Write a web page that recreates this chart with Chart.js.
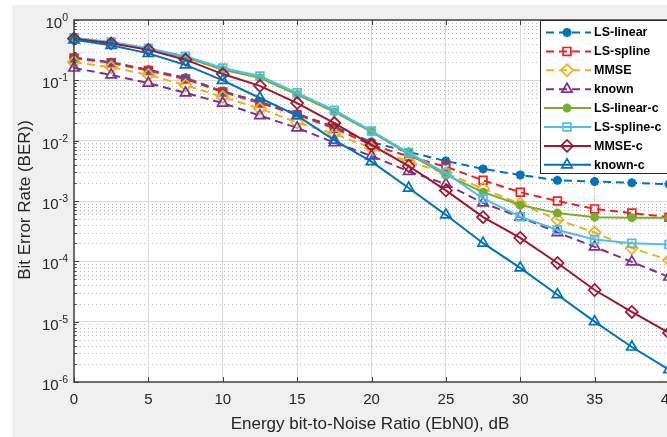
<!DOCTYPE html>
<html>
<head>
<meta charset="utf-8">
<script src="https://cdn.jsdelivr.net/npm/chart.js@4/dist/chart.umd.min.js"></script>
<style>
  html, body { margin: 0; padding: 0; background: #fff; overflow: hidden; }
  #wrap { width: 690px; height: 437px; }
</style>
</head>
<body>
<div id="wrap"><canvas id="berChart" width="690" height="437"></canvas></div>
<script>
// Eb/N0 points (dB)
const ebn0 = [0, 2.5, 5, 7.5, 10, 12.5, 15, 17.5, 20, 22.5, 25, 27.5, 30, 32.5, 35, 37.5, 40];

// BER per estimator
const lsLinear  = [0.24, 0.2, 0.15, 0.11, 0.066, 0.044, 0.028, 0.017, 0.0095, 0.0065, 0.0046, 0.0034, 0.0027, 0.0022, 0.0021, 0.002, 0.0019];
const lsSpline  = [0.235, 0.195, 0.145, 0.105, 0.064, 0.042, 0.027, 0.016, 0.0085, 0.0055, 0.0037, 0.0022, 0.0014, 0.001, 0.00074, 0.00063, 0.00054];
const mmse      = [0.2, 0.165, 0.123, 0.083, 0.053, 0.034, 0.02, 0.013, 0.0075, 0.0045, 0.0029, 0.0016, 0.0009, 0.00049, 0.0003, 0.000166, 0.000105];
const known     = [0.16, 0.123, 0.09, 0.062, 0.042, 0.026, 0.0163, 0.0093, 0.0056, 0.0031, 0.0019, 0.00093, 0.00054, 0.0003, 0.000174, 0.000098, 0.000055];
const lsLinearC = [0.5, 0.42, 0.33, 0.24, 0.15, 0.11, 0.058, 0.03, 0.014, 0.006, 0.0027, 0.0014, 0.00086, 0.00063, 0.00054, 0.00053, 0.00053];
const lsSplineC = [0.51, 0.43, 0.34, 0.25, 0.16, 0.118, 0.062, 0.032, 0.0145, 0.0063, 0.0029, 0.0011, 0.00055, 0.00033, 0.00023, 0.0002, 0.00019];
const mmseC     = [0.49, 0.41, 0.32, 0.22, 0.127, 0.081, 0.042, 0.0196, 0.0085, 0.0038, 0.0015, 0.00054, 0.000245, 0.000094, 0.0000335, 0.0000145, 0.0000065];
const knownC    = [0.47, 0.38, 0.28, 0.18, 0.1, 0.051, 0.026, 0.0102, 0.0045, 0.00164, 0.00059, 0.0002, 0.000078, 0.000028, 0.00001, 0.0000038, 0.0000016];

const seriesNames  = ['LS-linear', 'LS-spline', 'MMSE', 'known', 'LS-linear-c', 'LS-spline-c', 'MMSE-c', 'known-c'];
const seriesValues = [lsLinear, lsSpline, mmse, known, lsLinearC, lsSplineC, mmseC, knownC];

// tick labels
const xTicks = [0, 5, 10, 15, 20, 25, 30, 35, 40];
const yExponents = [-6, -5, -4, -3, -2, -1, 0];

// styles
const colors  = ['#0072BD', '#F01E23', '#EDB120', '#7E2F8E', '#77AC30', '#4DBEEE', '#A2142F', '#0072BD'];
const markers = ['star', 'rect', 'rectRot', 'triangle', 'star', 'rect', 'rectRot', 'triangle'];
const radii   = [4.5, 5.5, 6, 6, 4.5, 5.5, 6, 6];
const dashed  = [true, true, true, true, false, false, false, false];

const FONT = '"Liberation Sans", Arial, Helvetica, sans-serif';
const TXT = '#262626';

let datasets = seriesNames.map(function (name, i) {
    return {
        label: name,
        data: ebn0.map(function (x, j) { return { x: x, y: seriesValues[i][j] }; }),
        borderColor: colors[i],
        backgroundColor: colors[i],
        borderWidth: 2,
        borderDash: dashed[i] ? [8, 5] : [],
        pointStyle: markers[i],
        pointRadius: radii[i],
        pointBorderWidth: markers[i] === 'star' ? 2.8 : 1.7,
        pointBorderColor: colors[i],
        pointBackgroundColor: 'rgba(0,0,0,0)',
        fill: false,
        tension: 0,
        clip: false,
        order: seriesNames.length - i
    };
});

function drawMarker(ctx, i, x, y) {
    ctx.save();
    ctx.setLineDash([]);
    ctx.strokeStyle = colors[i];
    ctx.fillStyle = 'rgba(0,0,0,0)';
    ctx.lineWidth = markers[i] === 'star' ? 2.8 : 1.7;
    if (Chart.helpers && Chart.helpers.drawPoint) {
        Chart.helpers.drawPoint(ctx, { pointStyle: markers[i], radius: radii[i], borderWidth: ctx.lineWidth, rotation: 0 }, x, y);
    } else {
        ctx.beginPath();
        ctx.arc(x, y, radii[i] * 0.7, 0, Math.PI * 2);
        ctx.stroke();
    }
    ctx.restore();
}

// backgrounds and dotted minor grid
const backdrop = {
    id: 'backdrop',
    beforeDraw(chart) {
        let ctx = chart.ctx, a = chart.chartArea;
        ctx.save();
        ctx.fillStyle = '#ffffff';
        ctx.fillRect(0, 0, chart.width, chart.height);
        ctx.fillStyle = '#f0f0f0';
        ctx.fillRect(12, 5, chart.width - 12, chart.height - 5);
        ctx.fillStyle = '#ffffff';
        ctx.fillRect(a.left, a.top, a.right - a.left, a.bottom - a.top);

        let ys = chart.scales.y;
        ctx.strokeStyle = 'rgba(0,0,0,0.28)';
        ctx.lineWidth = 1;
        ctx.setLineDash([1, 3]);
        for (let e = -6; e < 0; e++) {
            for (let m = 2; m <= 9; m++) {
                let py = Math.round(ys.getPixelForValue(m * Math.pow(10, e))) + 0.5;
                ctx.beginPath();
                ctx.moveTo(a.left + 2, py);
                ctx.lineTo(a.right, py);
                ctx.stroke();
            }
        }
        ctx.restore();
    }
};

// frame, inward ticks, legend box
const frameAndLegend = {
    id: 'frameAndLegend',
    afterDatasetsDraw(chart) {
        let ctx = chart.ctx, a = chart.chartArea;
        let xs = chart.scales.x, ys = chart.scales.y;
        ctx.save();
        ctx.setLineDash([]);
        ctx.strokeStyle = '#404040';
        ctx.lineWidth = 1.5;
        ctx.beginPath();
        ctx.moveTo(a.right + 5, a.top);
        ctx.lineTo(a.left, a.top);
        ctx.lineTo(a.left, a.bottom);
        ctx.lineTo(a.right + 5, a.bottom);
        ctx.stroke();

        ctx.lineWidth = 1;
        xTicks.forEach(function (v) {
            let px = Math.round(xs.getPixelForValue(v)) + 0.5;
            ctx.beginPath();
            ctx.moveTo(px, a.bottom); ctx.lineTo(px, a.bottom - 5);
            ctx.moveTo(px, a.top); ctx.lineTo(px, a.top + 5);
            ctx.stroke();
        });
        for (let e = -6; e <= 0; e++) {
            let py = Math.round(ys.getPixelForValue(Math.pow(10, e))) + 0.5;
            ctx.beginPath();
            ctx.moveTo(a.left, py); ctx.lineTo(a.left + 5, py);
            ctx.stroke();
            if (e < 0) {
                for (let m = 2; m <= 9; m++) {
                    let pm = Math.round(ys.getPixelForValue(m * Math.pow(10, e))) + 0.5;
                    ctx.beginPath();
                    ctx.moveTo(a.left, pm); ctx.lineTo(a.left + 2.5, pm);
                    ctx.stroke();
                }
            }
        }

        // legend
        let lx = 540, ly = 20, rowH = 18.9;
        ctx.fillStyle = '#ffffff';
        ctx.fillRect(lx, ly, chart.width - lx, 153);
        ctx.strokeStyle = '#262626';
        ctx.lineWidth = 1;
        ctx.strokeRect(lx + 0.5, ly + 0.5, chart.width, 153);
        ctx.font = 'bold 12.5px ' + FONT;
        ctx.textBaseline = 'middle';
        ctx.textAlign = 'left';
        seriesNames.forEach(function (name, i) {
            let y = ly + 12.5 + i * rowH;
            ctx.strokeStyle = colors[i];
            ctx.lineWidth = 2;
            ctx.setLineDash(dashed[i] ? [8, 5] : []);
            ctx.lineDashOffset = dashed[i] ? -2 : 0;
            ctx.beginPath();
            ctx.moveTo(544, y); ctx.lineTo(591, y);
            ctx.stroke();
            drawMarker(ctx, i, 567, y);
            ctx.fillStyle = '#000000';
            ctx.fillText(name, 594, y + 0.5);
        });
        ctx.restore();
    },
    afterDraw(chart) {
        let ctx = chart.ctx, a = chart.chartArea;
        let xs = chart.scales.x, ys = chart.scales.y;
        ctx.save();
        ctx.fillStyle = TXT;
        // x tick labels
        ctx.font = '15px ' + FONT;
        ctx.textAlign = 'center';
        ctx.textBaseline = 'middle';
        xTicks.forEach(function (v) {
            ctx.fillText(String(v), xs.getPixelForValue(v), a.bottom + 18);
        });
        // y tick labels 10^e
        yExponents.forEach(function (e) {
            let py = ys.getPixelForValue(Math.pow(10, e));
            let ex = String(e);
            ctx.textAlign = 'right';
            ctx.font = '10.5px ' + FONT;
            let ew = ctx.measureText(ex).width;
            ctx.fillText(ex, 68, py - 2);
            ctx.font = '15px ' + FONT;
            ctx.fillText('10', 68 - ew, py + 4);
        });
        // axis titles
        ctx.font = '17px ' + FONT;
        ctx.textAlign = 'center';
        ctx.fillText('Energy bit-to-Noise Ratio (EbN0), dB', 370, 424);
        ctx.translate(25, 200);
        ctx.rotate(-Math.PI / 2);
        ctx.fillText('Bit Error Rate (BER))', 0, 0);
        ctx.restore();
    }
};

let ctx = document.getElementById('berChart').getContext('2d');
let chart = new Chart(ctx, {
    type: 'line',
    data: { datasets: datasets },
    options: {
        responsive: false,
        animation: false,
        devicePixelRatio: 1,
        layout: { padding: { top: 20, left: 0, right: 21, bottom: 0 } },
        plugins: { legend: { display: false }, tooltip: { enabled: false } },
        scales: {
            x: {
                type: 'linear',
                min: 0,
                max: 40,
                afterFit: function (s) { s.height = 55; },
                afterBuildTicks: function (s) { s.ticks = xTicks.map(function (v) { return { value: v }; }); },
                ticks: { display: false },
                grid: {
                    drawTicks: false,
                    color: function (c) { return (c.tick && (c.tick.value === 0 || c.tick.value === 40)) ? 'rgba(0,0,0,0)' : '#d9d9d9'; }
                },
                border: { display: false }
            },
            y: {
                type: 'logarithmic',
                min: 1e-6,
                max: 1,
                afterFit: function (s) { s.width = 74; },
                afterBuildTicks: function (s) { s.ticks = yExponents.map(function (e) { return { value: Math.pow(10, e) }; }); },
                ticks: { display: false },
                grid: {
                    drawTicks: false,
                    color: function (c) { return (c.tick && (c.tick.value === 1 || c.tick.value === 1e-6)) ? 'rgba(0,0,0,0)' : '#d9d9d9'; }
                },
                border: { display: false }
            }
        }
    },
    plugins: [backdrop, frameAndLegend]
});
</script>
</body>
</html>
